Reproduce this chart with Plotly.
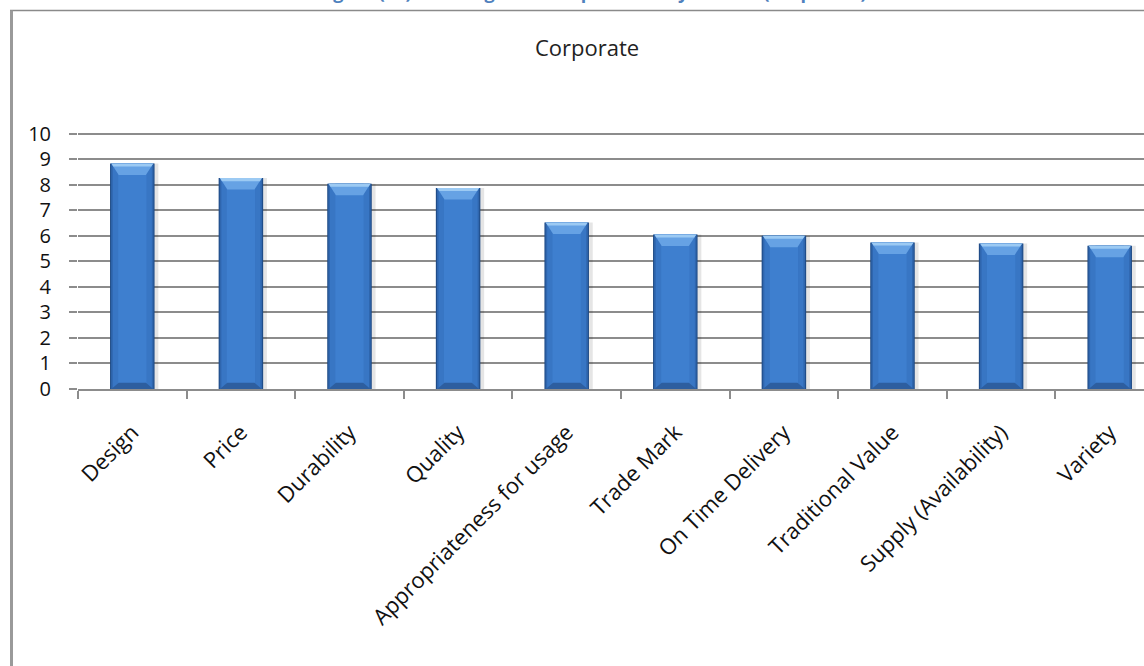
import plotly.graph_objects as go

# Factor ranking scores (corporate customers)
factors = [
    "Design", "Price", "Durability", "Quality", "Appropriateness for usage",
    "Trade Mark", "On Time Delivery", "Traditional Value",
    "Supply (Availability)", "Variety",
]
scores = [8.83, 8.26, 8.04, 7.87, 6.52, 6.05, 6.00, 5.74, 5.70, 5.61]
y_ticks = list(range(0, 11))

idx = list(range(len(factors)))
FONT = "Open Sans"
GRID = "#8c8c8c"

W, H = 1144, 666
M_L, M_R, M_T, M_B = 78, 0, 126, 277
PLOT_H = H - M_T - M_B


def py(pixel_y):
    """Convert a pixel row (from the top) to paper y."""
    return 1 + (M_T - pixel_y) / PLOT_H


def px(pixel_x):
    """Convert a pixel column to paper x."""
    return (pixel_x - M_L) / (W - M_L - M_R)


fig = go.Figure()

# Shadow behind each bar
fig.add_trace(go.Bar(x=idx, y=scores, width=0.44, offset=-0.2,
                     marker=dict(color="rgba(0,0,0,0.10)", line=dict(width=0)),
                     hoverinfo="skip"))
# Layered bars give a rounded, shaded column look
layers = [(0.41, "#1f4b86"), (0.39, "#2f66ae"), (0.36, "#3876c4"), (0.26, "#3e7fcf")]
for w, c in layers:
    fig.add_trace(go.Bar(x=idx, y=scores, width=w,
                         marker=dict(color=c, line=dict(width=0)),
                         hoverinfo="skip"))

shapes = []
hw = 0.205
inset = 0.08
bevel = 0.45
for i, v in enumerate(scores):
    # top bevel
    shapes.append(dict(type="path", xref="x", yref="y", layer="above",
                       path=f"M {i-hw+0.012},{v} L {i+hw-0.012},{v} L {i+hw-inset},{v-bevel} L {i-hw+inset},{v-bevel} Z",
                       fillcolor="#66a2e4", line=dict(width=0)))
    shapes.append(dict(type="path", xref="x", yref="y", layer="above",
                       path=f"M {i-hw+0.012},{v} L {i+hw-0.012},{v} L {i+hw-0.03},{v-0.12} L {i-hw+0.03},{v-0.12} Z",
                       fillcolor="#9ccaf3", line=dict(width=0)))
    # bottom bevel
    shapes.append(dict(type="path", xref="x", yref="y", layer="above",
                       path=f"M {i-hw+0.012},0 L {i+hw-0.012},0 L {i+hw-inset},{bevel*0.55} L {i-hw+inset},{bevel*0.55} Z",
                       fillcolor="#2d5e9f", line=dict(width=0)))

# Outer chart frame (top and left edges)
shapes.append(dict(type="line", xref="paper", yref="paper",
                   x0=px(10), x1=1.0, y0=py(10.5), y1=py(10.5),
                   line=dict(color="#8a8a8a", width=1.5)))
shapes.append(dict(type="line", xref="paper", yref="paper",
                   x0=px(11.5), x1=px(11.5), y0=py(10.5), y1=py(700),
                   line=dict(color="#9a9a9a", width=3)))

annotations = [
    dict(text="Corporate", xref="paper", yref="paper", x=px(587), y=py(47),
         xanchor="center", yanchor="middle", showarrow=False,
         font=dict(family=FONT, size=22, color="#222222")),
    dict(text="<b>Figure (11): Ranking of the Importance by Factors (Corporate)</b>",
         xref="paper", yref="paper", x=px(592), y=py(6.0),
         xanchor="center", yanchor="bottom", showarrow=False,
         font=dict(family="Open Sans", size=18, color="#4f81bd")),
]

fig.update_layout(
    width=W, height=H,
    margin=dict(l=M_L, r=M_R, t=M_T, b=M_B, pad=0),
    paper_bgcolor="white", plot_bgcolor="white",
    barmode="overlay", bargap=0.6, showlegend=False,
    shapes=shapes, annotations=annotations,
    font=dict(family=FONT, size=18, color="#111111"),
)
fig.update_xaxes(
    range=[-0.5, -0.5 + (W - M_L - M_R) / 108.6],
    tickmode="array", tickvals=idx, ticktext=factors,
    tickangle=-45, ticks="", showgrid=False,
    showline=True, linecolor=GRID, linewidth=1.5,
    tickfont=dict(family=FONT, size=22, color="#111111"),
    ticklabelstandoff=20,
    minor=dict(tick0=-0.5, dtick=1, ticks="outside", ticklen=8,
               tickcolor=GRID, tickwidth=1.5, showgrid=False),
    zeroline=False,
)
fig.update_yaxes(
    range=[0, 10.3], tickmode="array", tickvals=y_ticks,
    showgrid=True, gridcolor=GRID, gridwidth=1.5,
    ticks="outside", ticklen=8, tickcolor=GRID, tickwidth=1.5,
    showline=False, zeroline=False, ticklabelstandoff=14,
    tickfont=dict(family=FONT, size=20, color="#111111"),
)

fig.write_html("out.html")
